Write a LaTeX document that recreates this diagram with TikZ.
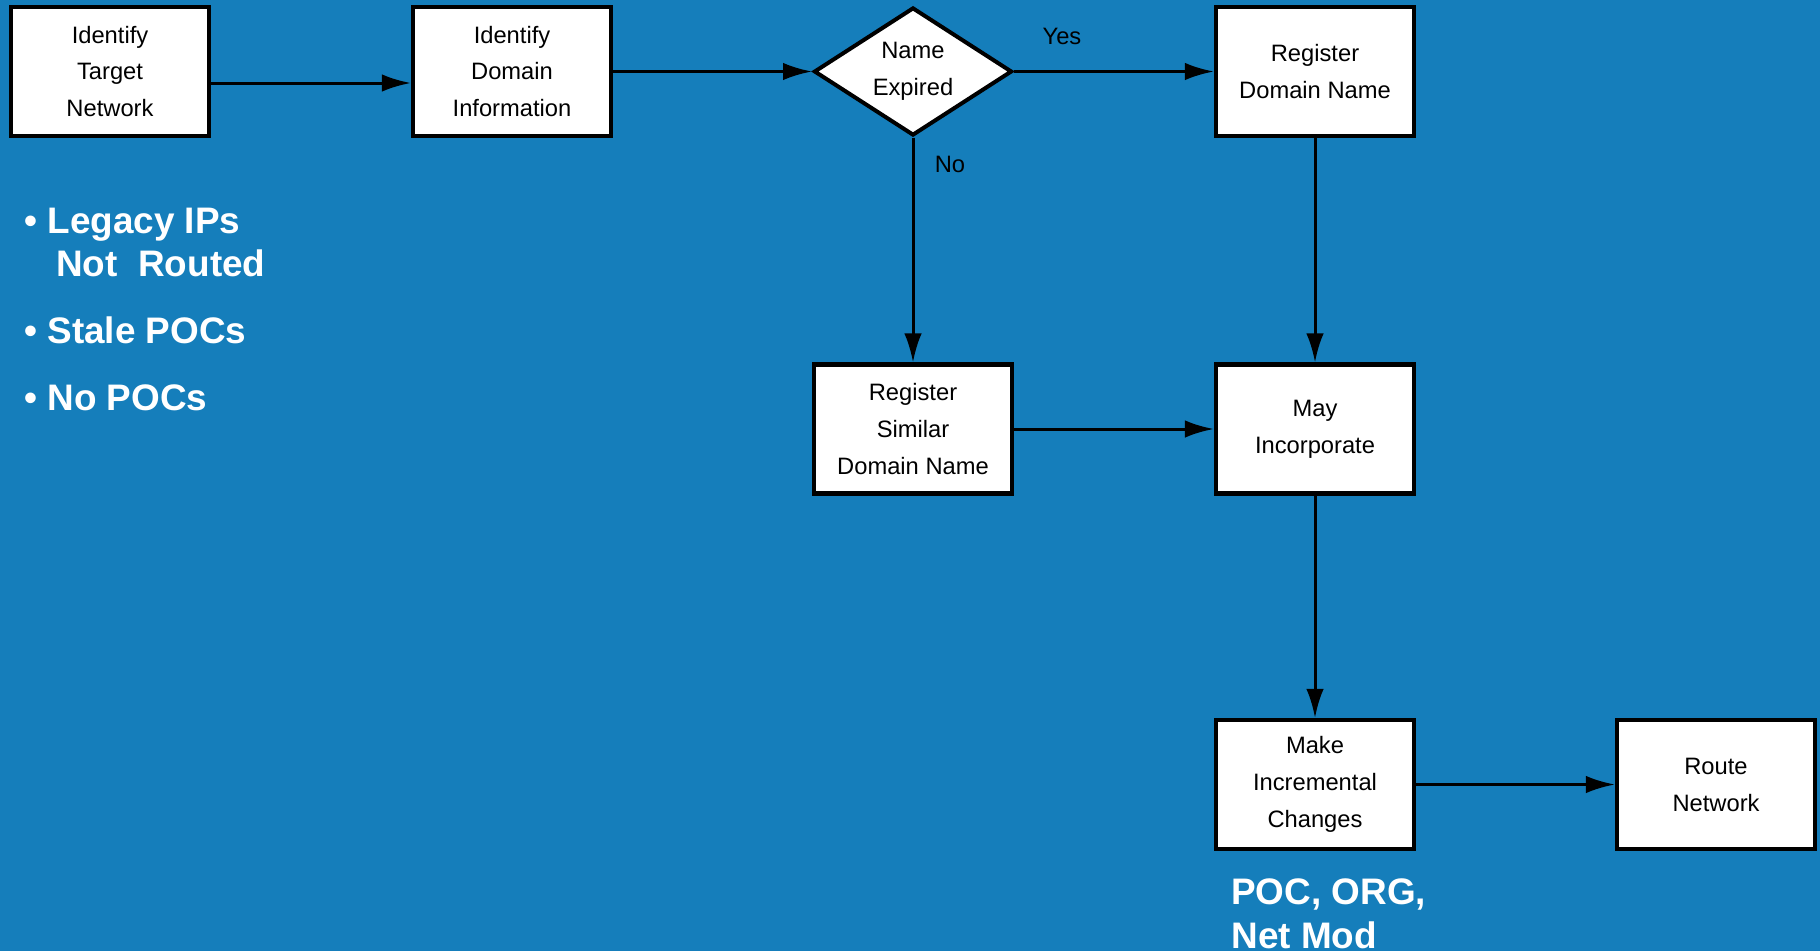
\documentclass[tikz,border=0pt]{standalone}
\usepackage{fontspec}
\setmainfont{Liberation Sans}
\usetikzlibrary{arrows.meta,shapes.geometric}
\definecolor{slideblue}{RGB}{21,126,187}
\tikzset{>={Latex[length=5.8mm,width=3.5mm]}}

\begin{document}
\begin{tikzpicture}[
    box/.style={draw, fill=white, line width=0.085cm, minimum width=3.96cm, minimum height=2.58cm,
        align=center, inner sep=0pt, font=\fontsize{13.5}{21}\selectfont},
    decision/.style={draw, fill=white, diamond, line width=0.08cm, aspect=1.5, minimum width=3.96cm,
        minimum height=2.56cm, align=center, inner sep=0pt, font=\fontsize{13.5}{21}\selectfont},
    flow/.style={->, line width=0.06cm},
    note/.style={anchor=base west, inner sep=0pt, text=white, font=\fontsize{21}{24}\selectfont\bfseries},
    lbl/.style={font=\fontsize{13.5}{16}\selectfont}]
    \fill[slideblue] (0,0) rectangle (36.4,-19.02);
    \node[box] (target) at (2.20,-1.43) {Identify\\ Target\\Network};
    \node[box] (domain) at (10.24,-1.43) {Identify\\Domain\\Information};
    \node[decision] (expired) at (18.26,-1.43) {Name\\Expired};
    \node[box] (register) at (26.30,-1.43) {Register\\Domain Name};
    \node[box] (similar) at (18.26,-8.58) {Register\\Similar\\Domain Name};
    \node[box] (incorp) at (26.30,-8.58) {May\\Incorporate};
    \node[box] (changes) at (26.30,-15.69) {Make\\Incremental\\Changes};
    \node[box] (route) at (34.32,-15.69) {Route\\Network};
    \draw[flow] ([yshift=-0.23cm]target.east) -- ([yshift=-0.23cm]domain.west);
    \draw[flow] (domain.east) -- (expired.west);
    \draw[flow] (expired.east) -- (register.west) node [lbl, pos=0.24, yshift=0.7cm] {Yes};
    \draw[flow] (expired.south) -- (similar.north) node [lbl, pos=0.12, xshift=0.74cm] {No};
    \draw[flow] (register.south) -- (incorp.north);
    \draw[flow] (similar.east) -- (incorp.west);
    \draw[flow] (incorp.south) -- (changes.north);
    \draw[flow] (changes.east) -- (route.west);
    \node[note] (legacy) at (0.48,-4.66) {\textbullet\ Legacy IPs};
    \node[note] (notrouted) at (1.12,-5.52) {Not\ \ Routed};
    \node[note] (stale) at (0.48,-6.86) {\textbullet\ Stale POCs};
    \node[note] (nopoc) at (0.48,-8.20) {\textbullet\ No POCs};
    \node[note] (pocorg) at (24.62,-18.08) {POC, ORG,};
    \node[note] (netmod) at (24.62,-18.96) {Net Mod};
\end{tikzpicture}
\end{document}
